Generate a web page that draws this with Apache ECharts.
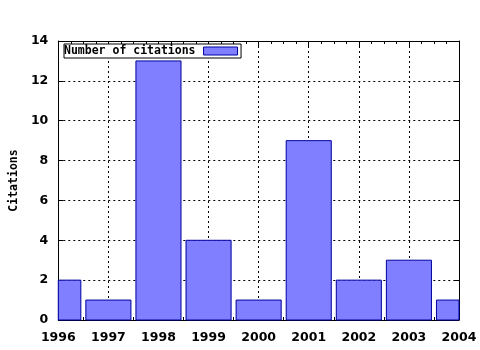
<!DOCTYPE html>
<html><head><meta charset="utf-8">
<script src="https://cdn.jsdelivr.net/npm/echarts@6/dist/echarts.min.js"></script>
<style>html,body{margin:0;padding:0;background:#fff}#c{width:480px;height:350px}</style>
</head><body><div id="c"></div>
<script>
const years = [1996, 1997, 1998, 1999, 2000, 2001, 2002, 2003, 2004];
const citations = [2, 1, 13, 4, 1, 9, 2, 3, 1];
const yTicks = [0, 2, 4, 6, 8, 10, 12, 14];
const seriesName = 'Number of citations';
const boxWidth = 0.9;

const chart = echarts.init(document.getElementById('c'));
const mono = 'DejaVu Sans Mono';
const sans = 'DejaVu Sans';
const axisCommon = {
  axisLine: {show: true, onZero: false, lineStyle: {color: '#000', width: 1}},
  axisTick: {show: true, inside: true, length: 5, lineStyle: {color: '#000'}},
  axisLabel: {color: '#000', fontFamily: sans, fontWeight: 'bold', fontSize: 12.5},
};
chart.setOption({
  animation: false,
  backgroundColor: '#fff',
  grid: {left: 57, right: 21, top: 41, bottom: 30, show: false},
  legend: {
    show: true, left: 64, top: 44, orient: 'horizontal', align: 'right',
    backgroundColor: '#fff',
    borderColor: '#000', borderWidth: 1, padding: [1, 3, 1, 0], itemGap: 0,
    itemWidth: 34, itemHeight: 8, borderRadius: 0,
    textStyle: {fontFamily: mono, fontWeight: 'bold', fontSize: 11.5, lineHeight: 11, color: '#000', padding: [0, 3, 0, 0]},
    data: [{name: seriesName, icon: 'rect', itemStyle: {color: '#7f7fff', borderColor: '#0000a0', borderWidth: 1}}]
  },
  xAxis: [{
    type: 'value', min: years[0], max: years[years.length - 1], interval: 1,
    ...axisCommon,
    axisLabel: {...axisCommon.axisLabel, margin: 11, formatter: v => String(v)},
    minorTick: {show: true, splitNumber: 4, length: 3, lineStyle: {color: '#000'}},
    splitLine: {show: true, lineStyle: {color: '#000', type: [2, 3], width: 1}}
  }, {
    type: 'value', position: 'top', min: years[0], max: years[years.length - 1], interval: 1,
    ...axisCommon, axisLabel: {show: false},
    minorTick: {show: true, splitNumber: 4, length: 3, lineStyle: {color: '#000'}},
    splitLine: {show: false}
  }],
  yAxis: [{
    type: 'value', min: yTicks[0], max: yTicks[yTicks.length - 1], interval: 2,
    name: 'Citations', nameLocation: 'middle', nameGap: 38, nameRotate: 90,
    nameTextStyle: {fontFamily: mono, fontWeight: 'bold', fontSize: 11.5, color: '#000', padding: [0, 0, 0, 0]},
    ...axisCommon,
    axisLabel: {...axisCommon.axisLabel, margin: 10},
    splitLine: {show: true, lineStyle: {color: '#000', type: [2, 3], width: 1}}
  }, {
    type: 'value', position: 'right', min: yTicks[0], max: yTicks[yTicks.length - 1], interval: 2,
    ...axisCommon, axisLabel: {show: false}, splitLine: {show: false}
  }],
  series: [{
    name: seriesName, type: 'custom', xAxisIndex: 0, yAxisIndex: 0,
    itemStyle: {color: '#7f7fff'},
    data: years.map((y, i) => [y, citations[i]]),
    renderItem: function (params, api) {
      const x = api.value(0), v = api.value(1);
      const p0 = api.coord([x - boxWidth / 2, v]);
      const p1 = api.coord([x + boxWidth / 2, 0]);
      const rect = echarts.graphic.clipRectByRect(
        {x: p0[0], y: p0[1], width: p1[0] - p0[0], height: p1[1] - p0[1]},
        {x: params.coordSys.x, y: params.coordSys.y, width: params.coordSys.width, height: params.coordSys.height});
      return rect && {type: 'rect', shape: rect, style: {fill: '#7f7fff', stroke: '#0000a0', lineWidth: 1}};
    },
    z: 3
  }]
});
</script></body></html>
